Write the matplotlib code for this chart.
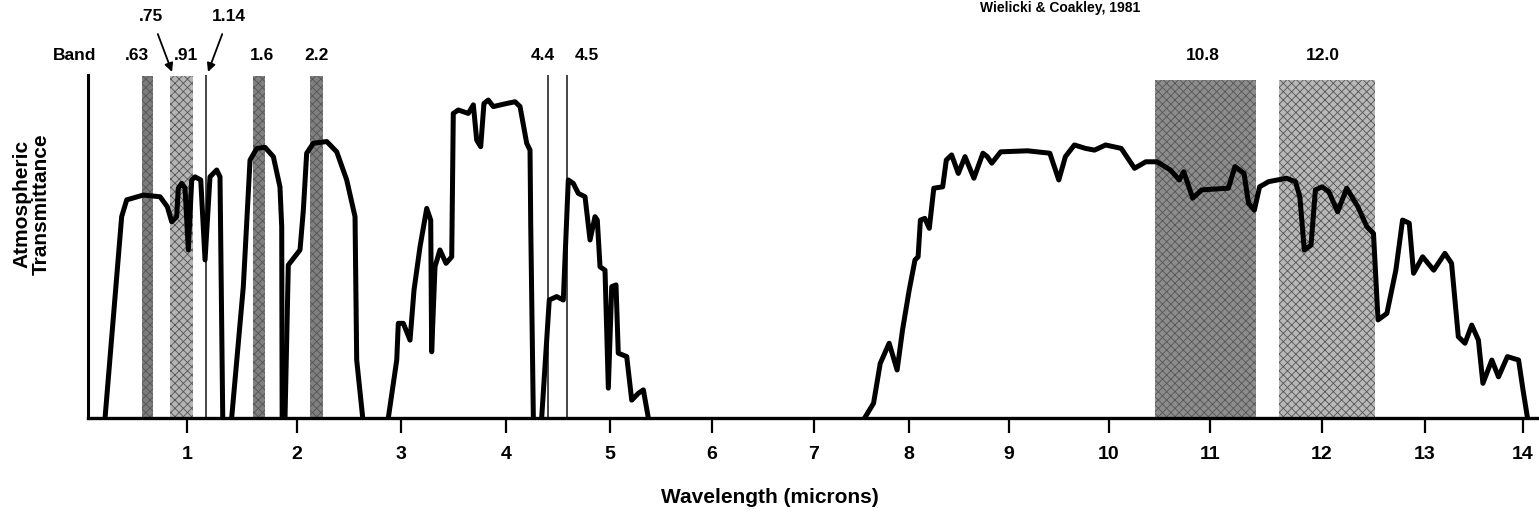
import numpy as np
import matplotlib
matplotlib.use("Agg")
import matplotlib.pyplot as plt

plt.rcParams['font.family'] = ['Liberation Sans Narrow', 'Liberation Sans', 'DejaVu Sans']
plt.rcParams['hatch.linewidth'] = 0.6

# transmittance curve, one window at a time (wavelength in microns, transmittance 0-1)
wl_1 = [0.255, 0.406, 0.452, 0.603, 0.755, 0.821, 0.861, 0.906, 0.921, 0.952, 0.982, 1.012,
        1.043, 1.073, 1.125, 1.164, 1.209, 1.270, 1.300, 1.325]
tr_1 = [0.0, 0.587, 0.636, 0.650, 0.645, 0.616, 0.572, 0.587, 0.670, 0.684, 0.670, 0.490,
        0.694, 0.703, 0.694, 0.461, 0.703, 0.723, 0.703, 0.0]

wl_2 = [1.406, 1.512, 1.573, 1.634, 1.709, 1.785, 1.845, 1.861, 1.865]
tr_2 = [0.0, 0.383, 0.752, 0.786, 0.789, 0.762, 0.674, 0.558, 0.0]

wl_3 = [1.891, 1.921, 2.029, 2.061, 2.093, 2.157, 2.286, 2.382, 2.478, 2.558, 2.574, 2.632]
tr_3 = [0.0, 0.446, 0.490, 0.606, 0.772, 0.801, 0.806, 0.776, 0.694, 0.587, 0.169, 0.0]

wl_4 = [2.878, 2.959, 2.974, 3.022, 3.086, 3.124, 3.181, 3.245, 3.283, 3.292, 3.324, 3.371,
        3.429, 3.483, 3.498, 3.546, 3.641, 3.689, 3.721, 3.759, 3.790, 3.831, 3.879, 4.007,
        4.087, 4.135, 4.199, 4.231, 4.238, 4.263]
tr_4 = [0.0, 0.169, 0.276, 0.276, 0.227, 0.373, 0.499, 0.611, 0.577, 0.193, 0.441, 0.490,
        0.451, 0.470, 0.888, 0.898, 0.888, 0.913, 0.810, 0.791, 0.917, 0.927, 0.908, 0.917,
        0.922, 0.908, 0.801, 0.781, 0.558, 0.0]

wl_5 = [4.343, 4.416, 4.487, 4.551, 4.599, 4.647, 4.695, 4.760, 4.808, 4.856, 4.878, 4.904,
        4.952, 4.984, 5.017, 5.059, 5.081, 5.164, 5.213, 5.278, 5.327, 5.376]
tr_5 = [0.0, 0.344, 0.354, 0.344, 0.694, 0.684, 0.655, 0.645, 0.519, 0.587, 0.577, 0.441,
        0.431, 0.087, 0.383, 0.388, 0.189, 0.179, 0.052, 0.072, 0.082, 0.0]

wl_6 = [7.533, 7.627, 7.697, 7.791, 7.875, 7.932, 8.002, 8.060, 8.091, 8.114, 8.158, 8.203,
        8.248, 8.337, 8.373, 8.426, 8.493, 8.560, 8.649, 8.739, 8.783, 8.828, 8.917, 9.185,
        9.408, 9.498, 9.564, 9.654, 9.765, 9.855, 9.966, 10.121, 10.253, 10.364, 10.475,
        10.608, 10.696, 10.740, 10.829, 10.917, 11.164, 11.223, 11.304, 11.344, 11.396,
        11.443, 11.523, 11.682, 11.763, 11.802, 11.842, 11.902, 11.941, 12.001, 12.066,
        12.152, 12.240, 12.348, 12.435, 12.500, 12.544, 12.630, 12.717, 12.782, 12.847,
        12.889, 12.977, 13.089, 13.203, 13.271, 13.340, 13.408, 13.477, 13.545, 13.591,
        13.682, 13.750, 13.841, 13.955, 14.000, 14.045]
tr_6 = [0.0, 0.043, 0.159, 0.218, 0.140, 0.257, 0.373, 0.461, 0.470, 0.577, 0.582, 0.553,
        0.670, 0.674, 0.752, 0.767, 0.713, 0.762, 0.699, 0.772, 0.762, 0.743, 0.776, 0.779,
        0.772, 0.694, 0.762, 0.796, 0.786, 0.781, 0.796, 0.786, 0.728, 0.747, 0.747,
        0.723, 0.694, 0.718, 0.641, 0.665, 0.670, 0.733, 0.713, 0.626, 0.606,
        0.674, 0.689, 0.699, 0.689, 0.645, 0.490, 0.504, 0.665, 0.674, 0.660,
        0.601, 0.670, 0.616, 0.558, 0.538, 0.286, 0.305, 0.431, 0.577, 0.568,
        0.422, 0.470, 0.431, 0.480, 0.451, 0.237, 0.218, 0.271, 0.227, 0.101,
        0.169, 0.120, 0.179, 0.169, 0.082, 0.0]

# sensor bands (wavelength ranges in microns)
band_lo = [0.591, 0.845, 1.600, 2.125, 10.455, 11.616]
band_hi = [0.691, 1.055, 1.709, 2.250, 11.411, 12.518]
band_grey = ['#7c7c7c', '#b4b4b4', '#808080', '#808080', '#8c8c8c', '#b8b8b8']
narrow_bands = [1.173, 4.404, 4.587]

band_names = ['.63', '.91', '1.6', '2.2', '4.4', '4.5', '10.8', '12.0']
band_name_x = [0.545, 0.991, 1.682, 2.192, 4.356, 4.779, 10.931, 12.010]

xtick_vals = list(range(1, 15))

# the hand drawn axis is not evenly spaced: tick positions in pixels
knot_wl = [0.1, 1, 2, 3, 4, 5, 6, 7, 8, 9, 10, 11, 12, 13, 14, 14.16]
knot_px = [88, 187, 297, 401, 506, 610, 712, 814, 909, 1009, 1109, 1210, 1322, 1425, 1523, 1539]


def fwd(x):
    x = np.asarray(x, dtype=float)
    y = np.interp(x, knot_wl, knot_px)
    y = np.where(x < knot_wl[0], knot_px[0] + (x - knot_wl[0]) * 110, y)
    y = np.where(x > knot_wl[-1], knot_px[-1] + (x - knot_wl[-1]) * 100, y)
    return y


def inv(p):
    p = np.asarray(p, dtype=float)
    y = np.interp(p, knot_px, knot_wl)
    y = np.where(p < knot_px[0], knot_wl[0] + (p - knot_px[0]) / 110, y)
    y = np.where(p > knot_px[-1], knot_wl[-1] + (p - knot_px[-1]) / 100, y)
    return y


fig = plt.figure(figsize=(15.39, 5.17), dpi=100)
ax = fig.add_axes([88 / 1539, 99 / 517, 1451 / 1539, 343 / 517])
ax.set_xscale('function', functions=(fwd, inv))
ax.set_xlim(0.1, 14.16)
ax.set_ylim(0, 1)

# shaded bands
for lo, hi, c in zip(band_lo, band_hi, band_grey):
    top = 0.985 if hi - lo > 0.5 else 0.997
    ax.fill_between([lo, hi], 0, top, facecolor=c, edgecolor='#555555',
                    hatch='xxxx', linewidth=0, zorder=1)
for w in narrow_bands:
    ax.plot([w, w], [0, 1.0], color='#444444', lw=1.4, zorder=2)

# transmittance curve
for wl, tr in [(wl_1, tr_1), (wl_2, tr_2), (wl_3, tr_3), (wl_4, tr_4), (wl_5, tr_5), (wl_6, tr_6)]:
    ax.plot(wl, tr, color='black', lw=3.6, solid_joinstyle='round',
            solid_capstyle='round', zorder=3)

ax.spines['top'].set_visible(False)
ax.spines['right'].set_visible(False)
ax.spines['bottom'].set_linewidth(2.4)
ax.spines['left'].set_linewidth(2.2)
ax.set_yticks([])
ax.set_xticks(xtick_vals)
ax.set_xticklabels([str(v) for v in xtick_vals], fontweight='bold')
ax.tick_params(axis='x', direction='out', length=11, width=1.6, labelsize=14, pad=9)

ax.set_xlabel('Wavelength (microns)', fontsize=15, fontweight='bold')
ax.xaxis.set_label_coords((770 - 88) / 1451, -0.205)
ax.set_ylabel('Atmospheric\nTransmittance', fontsize=15, fontweight='bold', linespacing=1.0)
ax.yaxis.set_label_coords(-0.026, 0.624)

# band labels
ax.text(-0.009, 1.058, 'Band', transform=ax.transAxes, ha='center', va='center',
        fontsize=12.5, fontweight='bold')
for name, x in zip(band_names, band_name_x):
    ax.text(x, 1.056, name, ha='center', va='center', fontsize=12.5, fontweight='bold')
ax.annotate('.75', xy=(0.864, 1.009), xytext=(0.673, 1.172), ha='center', va='center',
            fontsize=12.5, fontweight='bold', annotation_clip=False,
            arrowprops=dict(arrowstyle='-|>', lw=1.3, color='black', shrinkA=6, shrinkB=0))
ax.annotate('1.14', xy=(1.191, 1.009), xytext=(1.382, 1.172), ha='center', va='center',
            fontsize=12.5, fontweight='bold', annotation_clip=False,
            arrowprops=dict(arrowstyle='-|>', lw=1.3, color='black', shrinkA=6, shrinkB=0))

fig.text(1060 / 1539, 1 - 1 / 517, 'Wielicki & Coakley, 1981', ha='center', va='top',
         fontsize=10, fontweight='bold')

fig.savefig('out.png', dpi=100)
